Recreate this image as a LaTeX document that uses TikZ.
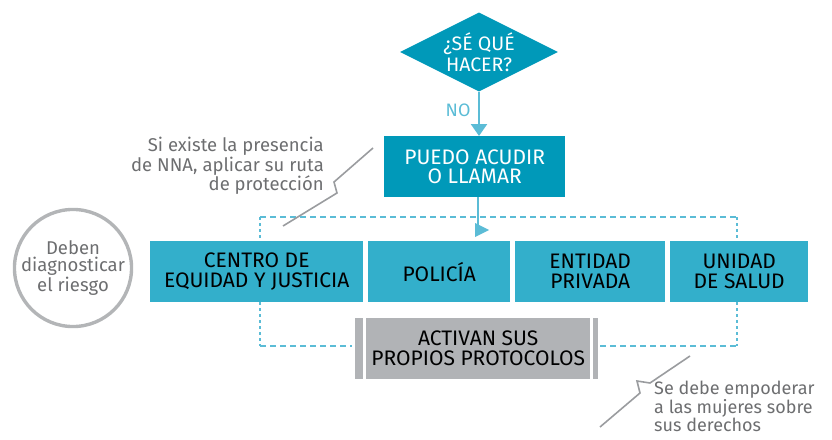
\documentclass[tikz,border=0pt]{standalone}
\usepackage{fontspec}
\setmainfont{Fira Sans}
\usetikzlibrary{shapes.geometric,positioning,calc,arrows.meta}
\definecolor{darkteal}{HTML}{0099B9}
\definecolor{lightteal}{HTML}{33AFCB}
\definecolor{dashteal}{HTML}{5BBCD6}
\definecolor{boxgray}{HTML}{B1B3B6}
\definecolor{textgray}{HTML}{6D6E70}
\definecolor{linegray}{HTML}{9A9C9F}
\definecolor{ringgray}{HTML}{B3B5B7}

\begin{document}
\begin{tikzpicture}
  [x=1pt,y=-1pt,
   question/.style={
     diamond,
     aspect=2,
     fill=darkteal,
     text=white,
     minimum width=158pt,
     minimum height=79pt,
     inner sep=0pt,
     align=center,
     font=\fontsize{19.5}{21}\selectfont
     },
   action/.style={
     rectangle,
     fill=darkteal,
     text=white,
     anchor=north west,
     inner sep=0pt,
     align=center,
     font=\fontsize{21}{19}\selectfont
     },
   entity/.style={
     rectangle,
     fill=lightteal,
     text=black,
     anchor=north west,
     minimum height=61pt,
     inner sep=0pt,
     align=center,
     font=\fontsize{21}{20}\selectfont
     },
   note/.style={
     text=textgray,
     inner sep=0pt,
     font=\fontsize{18.5}{16.5}\selectfont
     },
   callout/.style={draw=linegray, line width=1.6pt},
   hdash/.style={draw=dashteal, line width=2.6pt, dash pattern=on 6pt off 4pt},
   vdot/.style={draw=dashteal, line width=2.6pt, dash pattern=on 3pt off 3pt}
  ]
  \useasboundingbox (0,0) rectangle (832,439);

  % pregunta y primera accion
  \node [question] (sabe) at (479,52) {¿SÉ QUÉ\\HACER?};
  \node [action, minimum width=181pt, minimum height=61pt] (acudir) at (384,136)
    {PUEDO ACUDIR\\O LLAMAR};
  \node [text=dashteal, font=\fontsize{18}{18}\selectfont, anchor=east] (no) at (474,110) {NO};

  \draw [draw=dashteal, line width=2.4pt, -{Triangle[width=16pt,length=12pt]}]
    (sabe.south) -- (acudir.north -| sabe.south);

  % entidades
  \node [entity, minimum width=213pt] (centro)   at (150,241) {CENTRO DE\\EQUIDAD Y JUSTICIA};
  \node [entity, minimum width=142pt] (policia)  at (368,241) {POLICÍA};
  \node [entity, minimum width=150pt] (privada)  at (515,241) {ENTIDAD\\PRIVADA};
  \node [entity, minimum width=138pt] (salud)    at (670,241) {UNIDAD\\DE SALUD};

  % protocolos
  \node [rectangle, fill=boxgray, anchor=north west, minimum width=224pt, minimum height=61pt,
    inner sep=0pt, align=center, font=\fontsize{21}{20}\selectfont] (protocolos) at (366,318)
    {ACTIVAN SUS\\PROPIOS PROTOCOLOS};
  \fill [boxgray] ($(protocolos.north west)+(-11,0)$) rectangle ($(protocolos.south west)+(-3,0)$);
  \fill [boxgray] ($(protocolos.north east)+(3,0)$) rectangle ($(protocolos.south east)+(8,0)$);

  % circulo
  \node [circle, draw=ringgray, line width=3.4pt, minimum size=114pt, inner sep=0pt,
    text=textgray, align=center, font=\fontsize{18.5}{17}\selectfont] (riesgo) at (73,268)
    {Deben\\diagnosticar\\el riesgo};

  % recorrido punteado
  \coordinate (topleft)  at (260,217);
  \coordinate (topright) at (737,217);
  \coordinate (botleft)  at (260,346);
  \coordinate (botright) at (737,346);
  \draw [hdash] (topleft) -- (topright);
  \draw [vdot] (topleft) -- (topleft |- centro.north);
  \draw [vdot] (topright) -- (topright |- salud.north);
  \draw [vdot] (topleft |- centro.south) -- (botleft);
  \draw [vdot] (topright |- salud.south) -- (botright);
  \draw [hdash] (botleft) -- ($(protocolos.west |- botleft)+(-14,0)$);
  \draw [hdash] ($(protocolos.east |- botright)+(10,0)$) -- (botright);

  % flecha hacia las entidades
  \coordinate (tip) at (489,230);
  \draw [draw=dashteal, line width=2.4pt] (acudir.south -| 478,0) -- (478,229);
  \fill [dashteal] (475,223) -- (tip) -- (475,237) -- cycle;

  % notas
  \node [note, anchor=north east, align=right] (nna) at (324,137)
    {Si existe la presencia\\de NNA, aplicar su ruta\\de protección};
  \draw [callout] (373,148) -- (334,182) -- (337,193) -- (283,226);

  \node [note, anchor=north west, align=left, font=\fontsize{18}{16}\selectfont] (mujeres)
    at (654,381) {Se debe empoderar\\a las mujeres sobre\\sus derechos};
  \draw [callout] (690,356) -- (650,383) -- (637,381) -- (640,393) -- (600,427);
\end{tikzpicture}
\end{document}
